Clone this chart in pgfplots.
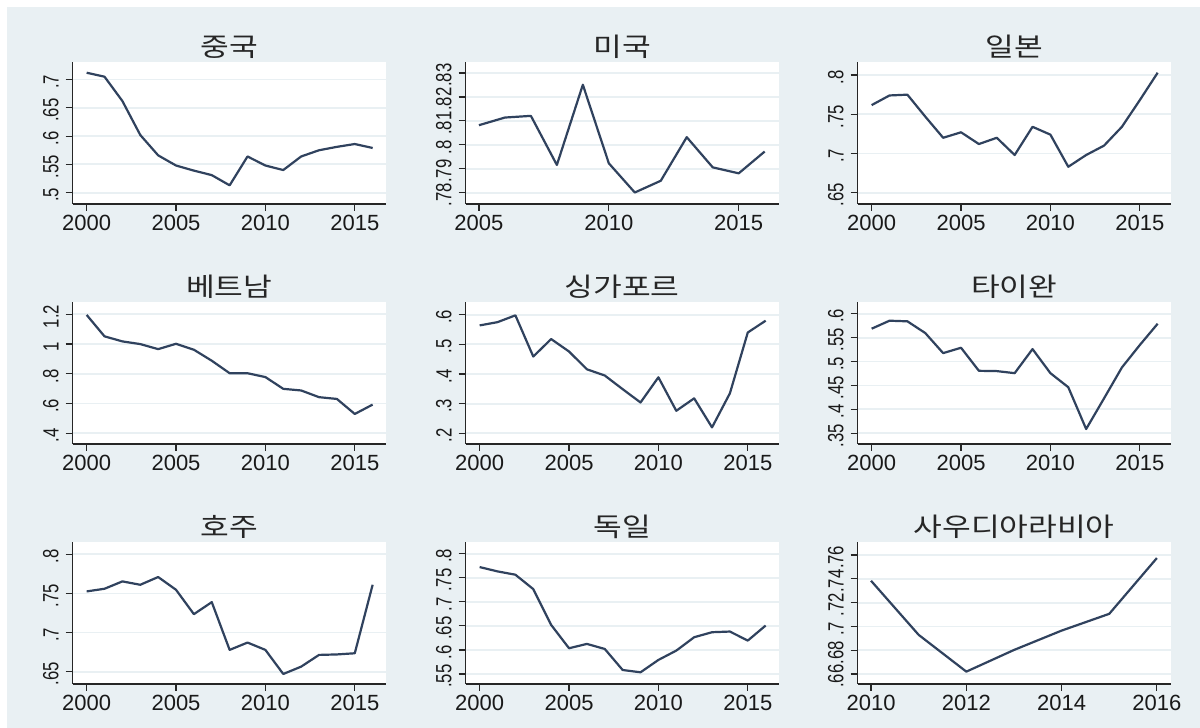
\documentclass[border=0pt]{standalone}
\usepackage{fontspec}
\setmainfont{Liberation Sans}
\newfontfamily\kr[FakeStretch=1.2]{Noto Sans CJK KR}
\usepackage{pgfplots}
\pgfplotsset{compat=1.18}
\definecolor{bgc}{RGB}{233,240,243}
\definecolor{gridc}{RGB}{233,240,243}
\definecolor{linec}{RGB}{48,66,94}
\pgfplotsset{panel/.style={
  width=156.5pt, height=71pt, scale only axis, anchor=south west,
  axis lines*=left,
  axis line style={black!85, line width=0.7pt},
  tick align=outside, major tick length=3.5pt,
  tick style={black!85, line width=0.6pt},
  ymajorgrids, grid style={gridc, line width=0.9pt},
  axis background/.style={fill=white},
  cycle list={{linec, mark=none}},
  every axis plot post/.append style={line width=1.1pt, line join=round},
  /pgf/number format/assume math mode=true,
  tick label style={font=\fontsize{11}{13}\selectfont, black!90},
  yticklabel style={rotate=90, xscale=0.76, anchor=south, xshift=-1.5pt},
  xticklabel style={yshift=1.5pt},
  title style={at={(0.5,1)}, anchor=center, yshift=1.5pt, font=\kr\fontsize{13}{15}\selectfont, black!85},
  xmin=1999.22, xmax=2016.73,
  xtick={2000,2005,2010,2015}, xticklabels={2000,2005,2010,2015},
}}
\begin{document}
\begin{tikzpicture}
\path[use as bounding box] (0,0) rectangle (600pt,364pt);
\fill[white] (0,0) rectangle (600pt,364pt);
\fill[bgc] (3.5pt,0) rectangle (600pt,360.5pt);

% China
\begin{axis}[panel, at={(36.35pt,262pt)}, title={중국},
  ymin=0.480, ymax=0.731, ytick={0.5,0.55,0.6,0.65,0.7}, yticklabels={.5,.55,.6,.65,.7}]
\addplot coordinates {(2000,0.712)(2001,0.705)(2002,0.662)(2003,0.602)(2004,0.566)(2005,0.548)(2006,0.539)(2007,0.531)(2008,0.513)(2009,0.564)(2010,0.548)(2011,0.540)(2012,0.564)(2013,0.575)(2014,0.581)(2015,0.586)(2016,0.579)};
\end{axis}

% USA
\begin{axis}[panel, at={(232.85pt,262pt)}, title={미국},
  xmin=2004.49, xmax=2016.54, xtick={2005,2010,2015}, xticklabels={2005,2010,2015},
  ymin=0.7753, ymax=0.8346, ytick={0.78,0.79,0.80,0.81,0.82,0.83}, yticklabels={.78,.79,.8,.81,.82,.83}]
\addplot coordinates {(2005,0.8082)(2006,0.8114)(2007,0.8121)(2008,0.7916)(2009,0.8251)(2010,0.7923)(2011,0.7801)(2012,0.7850)(2013,0.8032)(2014,0.7906)(2015,0.7881)(2016,0.7972)};
\end{axis}

% Japan
\begin{axis}[panel, at={(428.85pt,262pt)}, title={일본},
  ymin=0.6355, ymax=0.8167, ytick={0.65,0.7,0.75,0.8}, yticklabels={.65,.7,.75,.8}]
\addplot coordinates {(2000,0.7617)(2001,0.774)(2002,0.775)(2003,0.747)(2004,0.720)(2005,0.727)(2006,0.712)(2007,0.720)(2008,0.698)(2009,0.734)(2010,0.724)(2011,0.683)(2012,0.698)(2013,0.710)(2014,0.734)(2015,0.768)(2016,0.803)};
\end{axis}

% Vietnam
\begin{axis}[panel, at={(36.35pt,142pt)}, title={베트남},
  ymin=0.328, ymax=1.283, ytick={0.4,0.6,0.8,1,1.2}, yticklabels={.4,.6,.8,1,1.2}]
\addplot coordinates {(2000,1.196)(2001,1.052)(2002,1.018)(2003,1.000)(2004,0.966)(2005,1.002)(2006,0.962)(2007,0.888)(2008,0.804)(2009,0.804)(2010,0.778)(2011,0.699)(2012,0.688)(2013,0.643)(2014,0.631)(2015,0.530)(2016,0.593)};
\end{axis}

% Singapore
\begin{axis}[panel, at={(232.85pt,142pt)}, title={싱가포르},
  ymin=0.164, ymax=0.643, ytick={0.2,0.3,0.4,0.5,0.6}, yticklabels={.2,.3,.4,.5,.6}]
\addplot coordinates {(2000,0.564)(2001,0.575)(2002,0.598)(2003,0.459)(2004,0.518)(2005,0.476)(2006,0.416)(2007,0.395)(2008,0.349)(2009,0.304)(2010,0.389)(2011,0.276)(2012,0.318)(2013,0.220)(2014,0.335)(2015,0.540)(2016,0.580)};
\end{axis}

% Taiwan
\begin{axis}[panel, at={(428.85pt,142pt)}, title={타이완},
  ymin=0.3277, ymax=0.6244, ytick={0.35,0.4,0.45,0.5,0.55,0.6}, yticklabels={.35,.4,.45,.5,.55,.6}]
\addplot coordinates {(2000,0.5686)(2001,0.5853)(2002,0.584)(2003,0.5595)(2004,0.5176)(2005,0.5288)(2006,0.4806)(2007,0.480)(2008,0.4757)(2009,0.526)(2010,0.4757)(2011,0.4463)(2012,0.359)(2013,0.423)(2014,0.4876)(2015,0.5344)(2016,0.579)};
\end{axis}

% Australia
\begin{axis}[panel, at={(36.35pt,22pt)}, title={호주},
  ymin=0.6342, ymax=0.8158, ytick={0.65,0.7,0.75,0.8}, yticklabels={.65,.7,.75,.8}]
\addplot coordinates {(2000,0.7526)(2001,0.756)(2002,0.7654)(2003,0.7611)(2004,0.771)(2005,0.7547)(2006,0.7235)(2007,0.7389)(2008,0.6778)(2009,0.6872)(2010,0.6778)(2011,0.647)(2012,0.6564)(2013,0.6714)(2014,0.672)(2015,0.6735)(2016,0.7611)};
\end{axis}

% Germany
\begin{axis}[panel, at={(232.85pt,22pt)}, title={독일},
  ymin=0.5292, ymax=0.8243, ytick={0.55,0.6,0.65,0.7,0.75,0.8}, yticklabels={.55,.6,.65,.7,.75,.8}]
\addplot coordinates {(2000,0.7722)(2001,0.7632)(2002,0.7563)(2003,0.7264)(2004,0.652)(2005,0.6035)(2006,0.6125)(2007,0.602)(2008,0.5583)(2009,0.5535)(2010,0.5792)(2011,0.5986)(2012,0.6264)(2013,0.6368)(2014,0.6382)(2015,0.6194)(2016,0.6507)};
\end{axis}

% Saudi Arabia
\begin{axis}[panel, at={(428.85pt,22pt)}, title={사우디아라비아},
  xmin=2009.72, xmax=2016.29, xtick={2010,2012,2014,2016}, xticklabels={2010,2012,2014,2016},
  ymin=0.6516, ymax=0.771, ytick={0.66,0.68,0.70,0.72,0.74,0.76}, yticklabels={.66,.68,.7,.72,.74,.76}]
\addplot coordinates {(2010,0.7384)(2011,0.6929)(2012,0.662)(2013,0.6802)(2014,0.6965)(2015,0.7106)(2016,0.7575)};
\end{axis}
\end{tikzpicture}
\end{document}
